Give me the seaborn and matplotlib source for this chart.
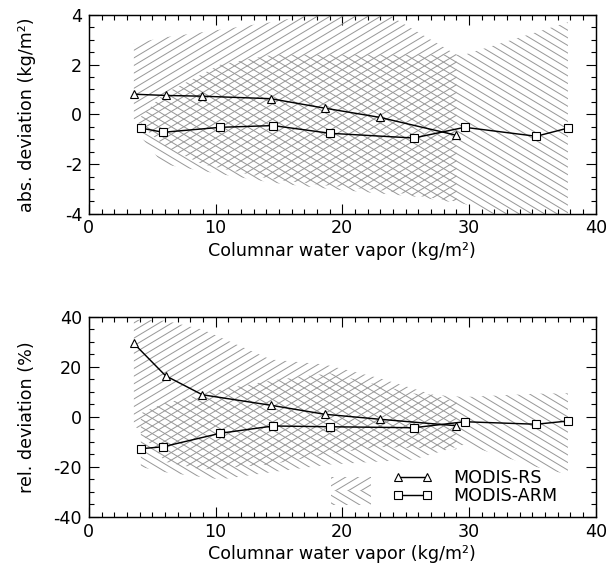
import numpy as np
import pandas as pd
import matplotlib
matplotlib.use("Agg")
import matplotlib.pyplot as plt
import seaborn as sns
from matplotlib.ticker import MultipleLocator
from matplotlib.collections import LineCollection
from matplotlib.patches import Rectangle

# ---------------- data ----------------
x_rs = [3.55, 6.05, 8.95, 14.35, 18.6, 22.95, 29.0]
x_arm = [4.1, 5.86, 10.37, 14.54, 19.03, 25.63, 29.65, 35.3, 37.8]

# absolute deviation (kg/m2)
rs_abs = [0.81, 0.76, 0.73, 0.63, 0.25, -0.12, -0.84]
arm_abs = [-0.55, -0.72, -0.52, -0.45, -0.76, -0.95, -0.52, -0.88, -0.55]
rs_abs_hi = [2.85, 3.1, 3.3, 3.7, 4.1, 4.2, 2.4]
rs_abs_lo = [-0.2, -1.3, -2.0, -2.6, -2.85, -3.05, -3.5]
arm_abs_hi = [-0.1, 0.8, 2.0, 2.4, 2.4, 2.4, 2.4, 3.3, 3.7]
arm_abs_lo = [-0.9, -2.0, -2.4, -2.75, -3.0, -3.3, -3.6, -4.6, -4.6]

# relative deviation (%)
rs_rel = [29.4, 16.5, 8.9, 4.7, 1.1, -0.9, -3.5]
arm_rel = [-12.7, -11.9, -6.5, -3.6, -3.9, -4.3, -1.9, -2.9, -1.6]
rs_rel_hi = [39, 38.5, 35, 23, 21, 15.5, 6]
rs_rel_lo = [-3, -18, -21, -19, -15, -12, -13]
arm_rel_hi = [1.5, 5.3, 11, 14.7, 17.5, 9.4, 8, 9.3, 9.5]
arm_rel_lo = [-20, -22, -25, -22, -19, -17, -11, -20, -23]

series_names = ["MODIS-RS", "MODIS-ARM"]
x_ticks = [0, 10, 20, 30, 40]
xlabel = "Columnar water vapor (kg/m\u00b2)"
ylabel_abs = "abs. deviation (kg/m\u00b2)"
ylabel_rel = "rel. deviation (%)"

# ---------------- style ----------------
sns.set_style("ticks")
plt.rcParams["font.family"] = ["DejaVu Sans"]
plt.rcParams["axes.unicode_minus"] = False
plt.rcParams["text.color"] = "black"
plt.rcParams["axes.labelcolor"] = "black"
FS = 15.8
HC = "#999999"
DPI = 80
FIG_W, FIG_H = 613, 569

fig = plt.figure(figsize=(FIG_W / DPI, FIG_H / DPI), dpi=DPI)
pos1 = [0.145, 0.624, 0.827, 0.350]
pos2 = [0.145, 0.0914, 0.827, 0.3515]
ax1 = fig.add_axes(pos1)
ax2 = fig.add_axes(pos2)


def hatch_lines(ax, pos, direction, clip_path, clip_transform):
    """Slanted grey hatch lines (~31 deg) clipped to a path."""
    W = pos[2] * FIG_W
    H = pos[3] * FIG_H
    slope = 0.6 * direction
    spacing = 7.6
    segs = []
    c = -0.6 * W - spacing
    while c < H + 0.6 * W + spacing:
        segs.append([(0.0, c / H), (1.0, (c + slope * W) / H)])
        c += spacing
    lc = LineCollection(segs, colors=HC, linewidths=0.9,
                        transform=ax.transAxes)
    ax.add_collection(lc, autolim=False)
    lc.set_clip_path(clip_path, clip_transform)


def hatched_band(ax, pos, x, lo, hi, direction):
    poly = ax.fill_between(x, lo, hi, facecolor="none", edgecolor="none",
                           linewidth=0)
    hatch_lines(ax, pos, direction, poly.get_paths()[0], ax.transData)


def panel(ax, pos, rs, arm, rs_lo, rs_hi, arm_lo, arm_hi, ylim, major, minor,
          ylabel, legend):
    hatched_band(ax, pos, x_rs, rs_lo, rs_hi, +1)
    hatched_band(ax, pos, x_arm, arm_lo, arm_hi, -1)
    df_rs = pd.DataFrame({"x": x_rs, "y": rs})
    df_arm = pd.DataFrame({"x": x_arm, "y": arm})
    sns.lineplot(data=df_rs, x="x", y="y", ax=ax, color="k", marker="^",
                 markersize=8, markerfacecolor="white", markeredgecolor="k",
                 markeredgewidth=1.0, linewidth=1.3,
                 label=series_names[0] if legend else None, legend=legend)
    sns.lineplot(data=df_arm, x="x", y="y", ax=ax, color="k", marker="s",
                 markersize=7, markerfacecolor="white", markeredgecolor="k",
                 markeredgewidth=1.0, linewidth=1.3,
                 label=series_names[1] if legend else None, legend=legend)
    ax.set_xlim(0, 40)
    ax.set_ylim(*ylim)
    ax.set_xticks(x_ticks)
    ax.xaxis.set_minor_locator(MultipleLocator(1))
    ax.yaxis.set_major_locator(MultipleLocator(major))
    ax.yaxis.set_minor_locator(MultipleLocator(minor))
    ax.tick_params(which="both", direction="in", top=True, right=True,
                   labelsize=FS, colors="k", width=1.0)
    ax.tick_params(which="major", length=9)
    ax.tick_params(which="minor", length=4.5)
    ax.tick_params(axis="x", pad=5)
    ax.tick_params(axis="y", pad=6)
    for s in ax.spines.values():
        s.set_linewidth(1.3)
        s.set_color("k")
    ax.set_xlabel(xlabel, fontsize=FS, labelpad=4, color="k")
    ax.set_ylabel(ylabel, fontsize=FS, color="k")
    ax.yaxis.set_label_coords(-0.105, 0.5)


panel(ax1, pos1, rs_abs, arm_abs, rs_abs_lo, rs_abs_hi, arm_abs_lo, arm_abs_hi,
      (-4, 4), 2, 0.5, ylabel_abs, False)
panel(ax2, pos2, rs_rel, arm_rel, rs_rel_lo, rs_rel_hi, arm_rel_lo, arm_rel_hi,
      (-40, 40), 20, 5, ylabel_rel, True)

# hatch-pattern key swatch beside the legend (upper half "/", lower half "\")
sw_top = Rectangle((0.477, 0.13), 0.08, 0.072, transform=ax2.transAxes,
                   facecolor="none", edgecolor="none")
sw_bot = Rectangle((0.477, 0.058), 0.08, 0.072, transform=ax2.transAxes,
                   facecolor="none", edgecolor="none")
ax2.add_patch(sw_top)
ax2.add_patch(sw_bot)
hatch_lines(ax2, pos2, +1, sw_top.get_path(), sw_top.get_transform())
hatch_lines(ax2, pos2, -1, sw_bot.get_path(), sw_bot.get_transform())

handles, labels = ax2.get_legend_handles_labels()
leg = ax2.legend(handles, labels, loc="lower right", bbox_to_anchor=(0.925, 0.06),
                 frameon=False, numpoints=2, handlelength=2.3, fontsize=FS,
                 labelspacing=0.0, handletextpad=1.2, borderpad=0, borderaxespad=0)
for t in leg.get_texts():
    t.set_color("k")

fig.savefig("out.png", dpi=DPI)
